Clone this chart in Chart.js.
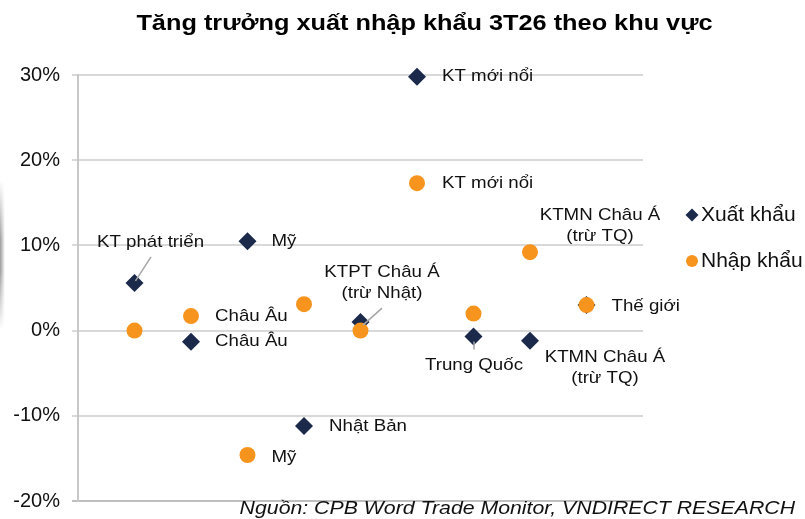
<!DOCTYPE html>
<html>
<head>
<meta charset="utf-8">
<script src="https://cdn.jsdelivr.net/npm/chart.js@4"></script>
<style>
  html, body { margin: 0; padding: 0; background: #fff; }
  #wrap { position: relative; width: 805px; height: 519px; }
  #chart { display: block; }
  #shade {
    position: absolute; left: 0; top: 180px; width: 5px; height: 150px;
    background: linear-gradient(to right, rgba(120,120,120,0.75), rgba(255,255,255,0));
    -webkit-mask-image: linear-gradient(to bottom, transparent, #000 40%, #000 60%, transparent);
    mask-image: linear-gradient(to bottom, transparent, #000 40%, #000 60%, transparent);
  }
</style>
</head>
<body>
<div id="wrap">
  <canvas id="chart" width="805" height="519"></canvas>
  <div id="shade"></div>
</div>
<script>
/* ===== DATA ===== */
const regions = ["KT phát triển", "Châu Âu", "Mỹ", "Nhật Bản", "KTPT Châu Á (trừ Nhật)",
                 "KT mới nổi", "Trung Quốc", "KTMN Châu Á (trừ TQ)", "Thế giới"];
const exportGrowth = [5.6, -1.3, 10.5, -11.2, 1.0, 29.8, -0.7, -1.2, 3.0];
const importGrowth = [0.0, 1.7, -14.6, 3.1, 0.0, 17.3, 2.0, 9.2, 3.0];

const exportLabels = ["KT phát triển", "Châu Âu", "Mỹ", "Nhật Bản", ["KTPT Châu Á", "(trừ Nhật)"],
                      "KT mới nổi", "Trung Quốc", ["KTMN Châu Á", "(trừ TQ)"], null];
const importLabels = [null, "Châu Âu", "Mỹ", null, null,
                      "KT mới nổi", null, ["KTMN Châu Á", "(trừ TQ)"], "Thế giới"];

const seriesNames = ["Xuất khẩu", "Nhập khẩu"];
const yTicks = [-20, -10, 0, 10, 20, 30];

const TITLE = "Tăng trưởng xuất nhập khẩu 3T26 theo khu vực";
const SOURCE = "Nguồn: CPB Word Trade Monitor, VNDIRECT RESEARCH";

/* ===== STYLE ===== */
const NAVY = "#1b2a4a";
const ORANGE = "#f7941d";
const TEXT = "#111";
const FONT = "'Liberation Sans', Arial, sans-serif";
const SX = 1.1; // reference text is slightly wide

// label placement relative to the point (pixels)
const exportPlace = [
  { dx: 16, dy: -41, align: "center", lead: [16.5, -26, 1, -2] },
  { dx: 24, dy: 0, align: "left" },
  { dx: 24, dy: 0, align: "left" },
  { dx: 25, dy: 0, align: "left" },
  { dx: 21.5, dy: -50, align: "center", lead: [21.5, -14, 2.5, 3] },
  { dx: 25, dy: 0, align: "left" },
  { dx: 0.5, dy: 29, align: "center", lead: [0.5, 5, 0.5, 13] },
  { dx: 75, dy: 16, align: "center" },
  null
];
const importPlace = [
  null,
  { dx: 24, dy: 0.5, align: "left" },
  { dx: 24, dy: 2, align: "left" },
  null, null,
  { dx: 25, dy: 0, align: "left" },
  null,
  { dx: 70, dy: -37, align: "center" },
  { dx: 25, dy: 1.5, align: "left" }
];

function drawText(ctx, text, x, y, align, font, sx) {
  ctx.save();
  ctx.font = font;
  ctx.fillStyle = TEXT;
  ctx.textAlign = align;
  ctx.textBaseline = "middle";
  ctx.translate(x, y);
  ctx.scale(sx, 1);
  ctx.fillText(text, 0, 0);
  ctx.restore();
}

/* ===== PLUGIN: labels, leaders, title, legend, source ===== */
const annotate = {
  id: "annotate",
  afterDatasetsDraw(chart) {
    const ctx = chart.ctx;
    const sets = [[0, exportLabels, exportPlace], [1, importLabels, importPlace]];
    sets.forEach(([di, labels, place]) => {
      const meta = chart.getDatasetMeta(di);
      meta.data.forEach((pt, i) => {
        const p = place[i];
        if (!labels[i] || !p) return;
        if (p.lead) {
          ctx.save();
          ctx.strokeStyle = "#a6a6a6";
          ctx.lineWidth = 1.5;
          ctx.beginPath();
          ctx.moveTo(pt.x + p.lead[0], pt.y + p.lead[1]);
          ctx.lineTo(pt.x + p.lead[2], pt.y + p.lead[3]);
          ctx.stroke();
          ctx.restore();
        }
        const lines = Array.isArray(labels[i]) ? labels[i] : [labels[i]];
        lines.forEach((ln, k) => {
          drawText(ctx, ln, pt.x + p.dx, pt.y + p.dy + k * 21, p.align, "17px " + FONT, SX);
        });
      });
    });
  },
  afterDraw(chart) {
    const ctx = chart.ctx;
    // title
    ctx.save();
    ctx.font = "bold 22px " + FONT;
    ctx.fillStyle = "#000";
    ctx.textAlign = "center";
    ctx.textBaseline = "alphabetic";
    ctx.translate(424.5, 30);
    ctx.scale(1.15, 1);
    ctx.fillText(TITLE, 0, 0);
    ctx.restore();

    // legend
    ctx.save();
    ctx.fillStyle = NAVY;
    ctx.beginPath();
    ctx.moveTo(692, 208.5); ctx.lineTo(698.5, 215); ctx.lineTo(692, 221.5); ctx.lineTo(685.5, 215);
    ctx.closePath(); ctx.fill();
    ctx.fillStyle = ORANGE;
    ctx.beginPath(); ctx.arc(692, 261, 6, 0, Math.PI * 2); ctx.fill();
    ctx.restore();
    drawText(ctx, seriesNames[0], 701, 215, "left", "20px " + FONT, 1.05);
    drawText(ctx, seriesNames[1], 701, 261, "left", "20px " + FONT, 1.05);

    // source
    drawText(ctx, SOURCE, 795, 509, "right", "italic 19px " + FONT, 1.12);
  }
};

/* ===== CHART ===== */
const toPoints = vals => vals.map((v, i) => ({ x: i + 1, y: v }));

new Chart(document.getElementById("chart").getContext("2d"), {
  type: "scatter",
  data: {
    datasets: [
      {
        label: seriesNames[0],
        data: toPoints(exportGrowth),
        pointStyle: "rectRot",
        pointRadius: 9,
        backgroundColor: NAVY,
        borderColor: NAVY,
        borderWidth: 0,
        clip: false,
        order: 2
      },
      {
        label: seriesNames[1],
        data: toPoints(importGrowth),
        pointStyle: "circle",
        pointRadius: 8,
        backgroundColor: ORANGE,
        borderColor: ORANGE,
        borderWidth: 0,
        clip: false,
        order: 1
      }
    ]
  },
  options: {
    responsive: false,
    animation: false,
    devicePixelRatio: 1,
    layout: { padding: { left: 0, right: 162, top: 75, bottom: 18 } },
    plugins: { legend: { display: false }, tooltip: { enabled: false } },
    scales: {
      x: { type: "linear", min: 0, max: 10, display: false },
      y: {
        min: yTicks[0],
        max: yTicks[yTicks.length - 1],
        afterBuildTicks: s => { s.ticks = yTicks.map(v => ({ value: v })); },
        afterFit: s => { s.width = 78; s.paddingTop = 0; s.paddingBottom = 0; },
        ticks: {
          callback: v => v + "%",
          color: TEXT,
          padding: 12,
          font: { family: FONT, size: 20 }
        },
        grid: {
          color: c => (c.tick && c.tick.value === yTicks[0] ? "#bfbfbf" : "#d9d9d9"),
          lineWidth: 2,
          tickLength: 6
        },
        border: { display: true, color: "#c8c8c8", width: 2 }
      }
    }
  },
  plugins: [annotate]
});
</script>
</body>
</html>
